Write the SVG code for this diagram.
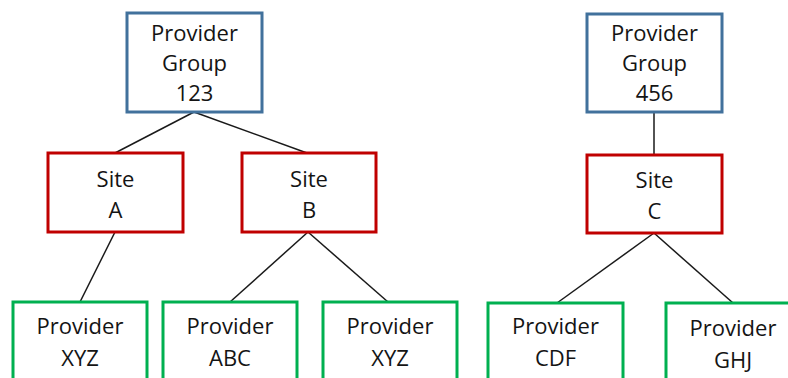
<svg xmlns="http://www.w3.org/2000/svg" width="788" height="378" viewBox="0 0 788 378">
<style>
rect{fill:#fff;stroke-width:3}
.g rect{stroke:#41719C}
.s rect{stroke:#C00000}
.p rect{stroke:#00B050}
text{font-family:"Open Sans","Noto Sans",sans-serif;font-size:22px;fill:#141414;text-anchor:middle}
#connectors line{stroke:#1a1a1a;stroke-width:1.5}
</style>
<rect x="0" y="0" width="788" height="378" style="fill:#fff;stroke:none"/>
<g id="connectors">
<line x1="194" y1="112" x2="115" y2="153"/>
<line x1="194" y1="112" x2="307" y2="153"/>
<line x1="115" y1="232" x2="80" y2="302"/>
<line x1="308" y1="232" x2="230" y2="302"/>
<line x1="308" y1="232" x2="388" y2="302"/>
<line x1="654" y1="112" x2="654" y2="155"/>
<line x1="654" y1="233" x2="557" y2="303"/>
<line x1="654" y1="233" x2="733" y2="303"/>
</g>
<g id="pg123" class="g"><rect x="127" y="13" width="135" height="99"/>
<text x="194.5" y="41">Provider</text><text x="194.5" y="71">Group</text><text x="194.5" y="101">123</text></g>
<g id="pg456" class="g"><rect x="587" y="14" width="135" height="98"/>
<text x="654.5" y="41">Provider</text><text x="654.5" y="71">Group</text><text x="654.5" y="101">456</text></g>
<g id="siteA" class="s"><rect x="48" y="153" width="135" height="79"/>
<text x="115.5" y="187">Site</text><text x="115.5" y="218">A</text></g>
<g id="siteB" class="s"><rect x="242" y="153" width="134" height="79"/>
<text x="309" y="187">Site</text><text x="309" y="218">B</text></g>
<g id="siteC" class="s"><rect x="587" y="155" width="135" height="78"/>
<text x="654.5" y="188">Site</text><text x="654.5" y="219">C</text></g>
<g id="pXYZ1" class="p"><rect x="13" y="302" width="134" height="90"/>
<text x="80" y="334">Provider</text><text x="80" y="366">XYZ</text></g>
<g id="pABC" class="p"><rect x="163" y="302" width="134" height="90"/>
<text x="230" y="334">Provider</text><text x="230" y="366">ABC</text></g>
<g id="pXYZ2" class="p"><rect x="323" y="302" width="134" height="90"/>
<text x="390" y="334">Provider</text><text x="390" y="366">XYZ</text></g>
<g id="pCDF" class="p"><rect x="488" y="303" width="135" height="90"/>
<text x="555.5" y="334">Provider</text><text x="555.5" y="366">CDF</text></g>
<g id="pGHJ" class="p"><rect x="666" y="303" width="135" height="90"/>
<text x="733" y="336">Provider</text><text x="733" y="368">GHJ</text></g>
</svg>
